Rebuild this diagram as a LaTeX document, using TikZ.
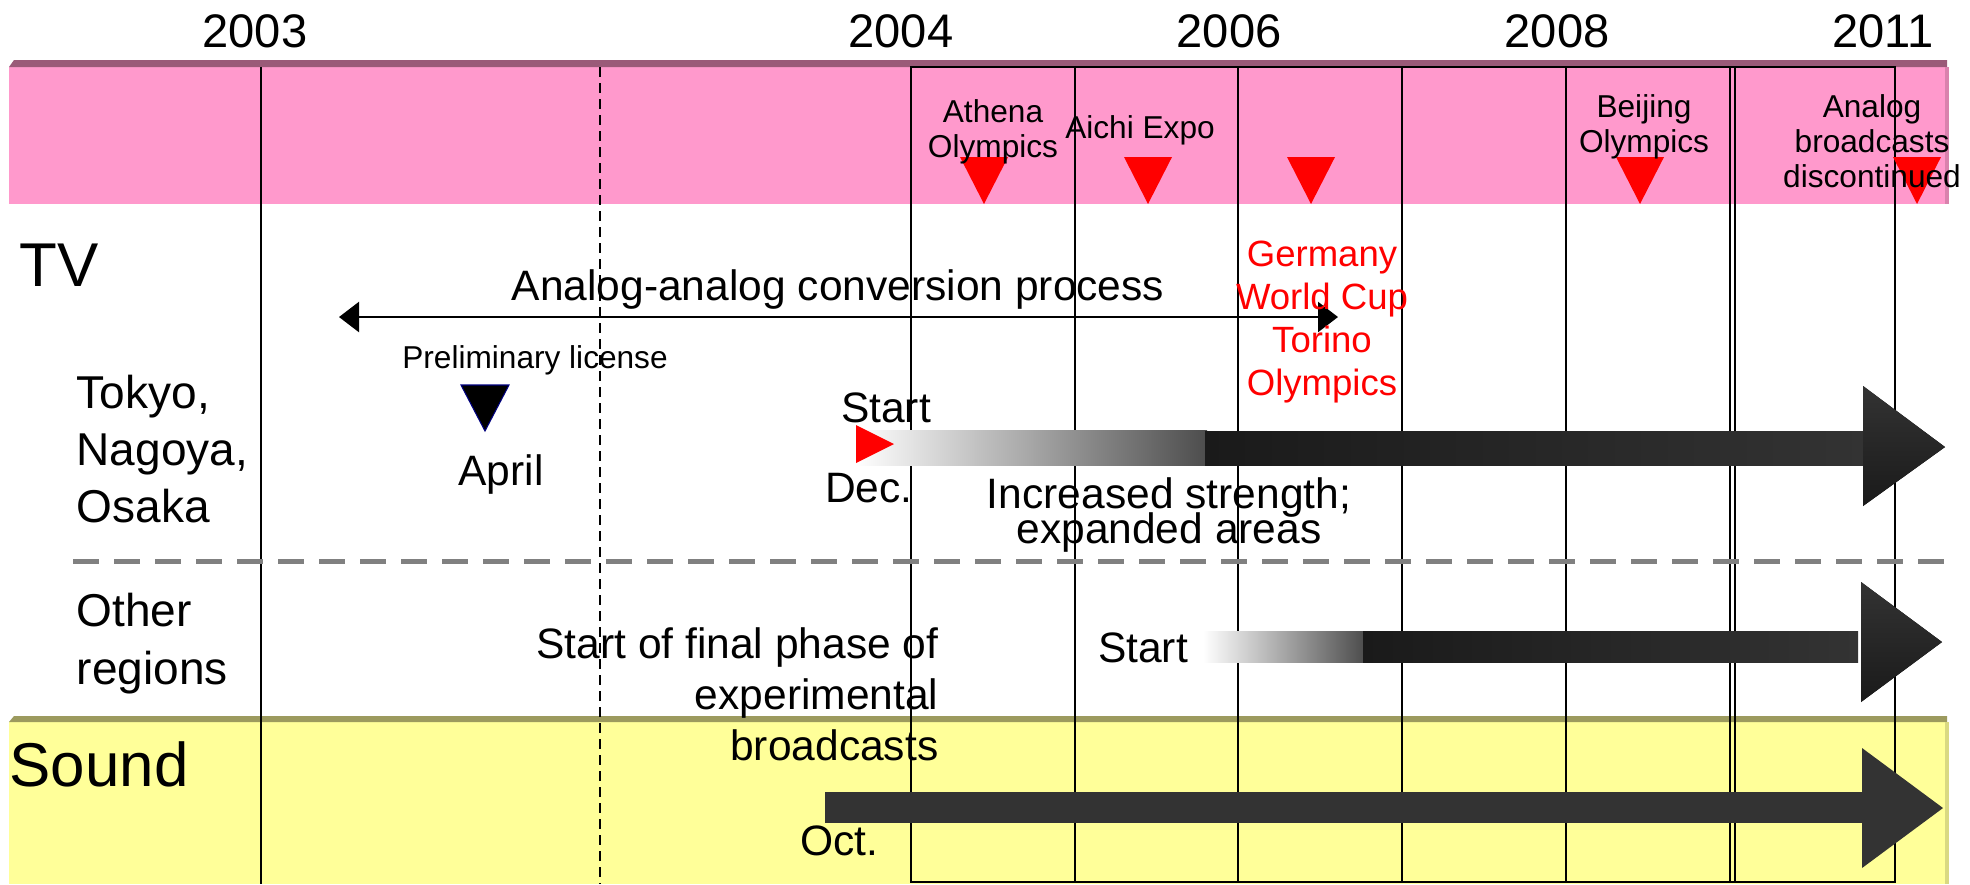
\documentclass[tikz,border=0pt]{standalone}
\usepackage{fontspec}
\setmainfont{Liberation Sans}
\usepackage{xcolor}
\usepackage{tikz}
\usetikzlibrary{arrows.meta,calc,positioning}
\definecolor{bandpink}{HTML}{FF99CC}
\definecolor{bandpinkedge}{HTML}{9A5A78}
\definecolor{bandyellow}{HTML}{FFFF99}
\definecolor{bandyellowedge}{HTML}{9C9A5E}
\definecolor{dividergray}{HTML}{808080}
\definecolor{eventred}{HTML}{FF0000}
\definecolor{arrowdark}{HTML}{333333}
\definecolor{arrowdeep}{HTML}{1A1A1A}
\definecolor{licnavy}{HTML}{000080}
\newcommand{\tightlead}{\lineskiplimit=-20pt\relax}
\tikzset{
every picture/.style={line join=miter},
year label/.style={font=\fontsize{13.4}{16}\selectfont, inner sep=0pt, anchor=base},
row label/.style={font=\fontsize{13.1}{16.2}\selectfont, inner sep=0pt, anchor=base west, align=left},
band label/.style={font=\fontsize{17.6}{20}\selectfont, inner sep=0pt, anchor=base west},
plain label/.style={font=\fontsize{12.1}{14.5}\selectfont, inner sep=0pt, anchor=base, align=center},
event label/.style={font=\fontsize{9}{9.8}\selectfont, inner sep=0pt, anchor=base, align=center},
red label/.style={font=\fontsize{10.4}{12.2}\selectfont, text=eventred, inner sep=0pt, anchor=base, align=center},
grid line/.style={draw=black, line width=0.45pt},
period flow/.style={draw=black, line width=0.7pt, {Triangle[length=2mm,width=3mm]}-{Triangle[length=2mm,width=3mm]}},
divider/.style={draw=dividergray, line width=0.5mm, dash pattern=on 2.6mm off 1.5mm}
}
\begin{document}
\begin{tikzpicture}[x=0.1mm,y=-0.1mm]
\fill[white] (0,0) rectangle (1970,884);
\useasboundingbox (0,0) rectangle (1970,884);
% bands
\fill[bandpink] (9,67) rectangle (1947,204);
\fill[bandpinkedge] (9,67) -- (14,60) -- (1947,60) -- (1947,67) -- cycle;
\fill[bandpink!85!black] (1945,67) rectangle (1949,204);
\fill[bandyellow] (9,722) rectangle (1947,884);
\fill[bandyellowedge] (9,722) -- (14,716) -- (1947,716) -- (1947,722) -- cycle;
\fill[bandyellow!85!black] (1945,722) rectangle (1949,884);
% year grid
\draw[grid line] (261,67) -- (261,884);
\draw[grid line, dash pattern=on 1mm off 0.6mm] (600,67) -- (600,884);
\draw[grid line] (911,67) rectangle (1895,882);
\foreach \x in {1075,1238,1402,1566,1730,1735} {\draw[grid line] (\x,67) -- (\x,882);}
\draw[divider] (73,561) -- (1945,561);
% events
\foreach \ex in {984,1148,1311,1640,1917} {\fill[eventred] (\ex-24,157) -- (\ex+24,157) -- (\ex,204) -- cycle;}
\filldraw[fill=black, draw=licnavy, line width=0.3pt] (461,385) -- (509,385) -- (485,431) -- cycle;
% tokyo arrow
\fill[left color=white, right color=black!70] (856,430) rectangle (1207,465);
\fill[left color=arrowdeep, right color=arrowdark] (1205,431) rectangle (1865,465);
\fill[top color=arrowdark, bottom color=arrowdeep] (1863,386) -- (1945,447) -- (1863,506) -- cycle;
\fill[eventred] (856,425) -- (894,444) -- (856,463) -- cycle;
% other regions arrow
\fill[left color=white, right color=black!70] (1203,631) rectangle (1365,662);
\fill[left color=arrowdeep, right color=arrowdark] (1363,631) rectangle (1858,662);
\fill[top color=arrowdark, bottom color=arrowdeep] (1861,582) -- (1942,642) -- (1861,702) -- cycle;
% sound arrow
\fill[arrowdark] (825,792) rectangle (1864,823);
\fill[arrowdark] (1862,748) -- (1943,808) -- (1862,868) -- cycle;
% conversion period
\coordinate (convL) at (339,317);
\coordinate (convR) at (1338,317);
\draw[period flow] (convL) -- (convR);
% labels
\node[year label] (y2003) at (255,47) {2003};
\node[year label] (y2004) at (901,47) {2004};
\node[year label] (y2006) at (1229,47) {2006};
\node[year label] (y2008) at (1557,47) {2008};
\node[year label] (y2011) at (1883,47) {2011};
\node[band label] (tv) at (19,286) {TV};
\node[band label] (sound) at (9,786) {Sound};
\node[row label] (tokyo) at (76,522) {Tokyo,\\Nagoya,\\Osaka};
\node[row label, font=\fontsize{13.1}{16.5}\selectfont] (other) at (76,684) {Other\\regions};
\node[plain label] (conv) at (838,300) {Analog-analog conversion process};
\node[event label] (prelim) at (535,368) {Preliminary license};
\node[plain label] (april) at (501,485) {April};
\node[plain label] (start1) at (886,422) {Start};
\node[plain label] (dec) at (869,502) {Dec.};
\node[plain label, font=\fontsize{12.1}{9.96}\selectfont\tightlead] (incr) at (1169,543) {Increased strength;\\expanded areas};
\node[plain label] (start2) at (1143,662) {Start};
\node[plain label, anchor=base east, align=right] (final) at (939,760) {Start of final phase of\\experimental\\broadcasts};
\node[plain label] (oct) at (839,855) {Oct.};
\node[red label] (cup) at (1322,395) {Germany\\World Cup\\Torino\\Olympics};
\node[event label] (athena) at (993,157) {Athena\\Olympics};
\node[event label] (aichi) at (1140,138) {Aichi Expo};
\node[event label] (beijing) at (1644,152) {Beijing\\Olympics};
\node[event label, font=\fontsize{9}{9.96}\selectfont] (analogoff) at (1872,187) {Analog\\broadcasts\\discontinued};
\end{tikzpicture}
\end{document}
